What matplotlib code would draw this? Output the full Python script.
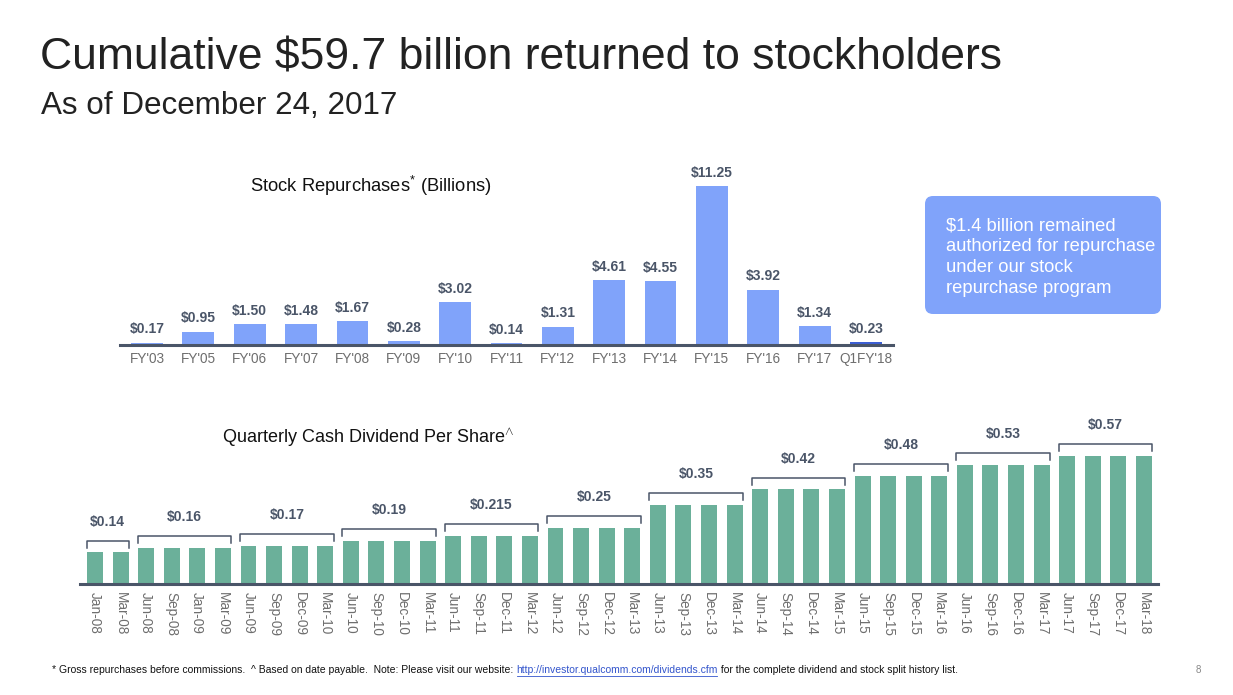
import matplotlib
matplotlib.use('Agg')
import matplotlib.pyplot as plt
import numpy as np
from matplotlib.patches import FancyBboxPatch

plt.rcParams['font.family'] = ['Liberation Sans', 'DejaVu Sans']
plt.rcParams['mathtext.fontset'] = 'custom'
plt.rcParams['mathtext.rm'] = 'Liberation Sans'
plt.rcParams['mathtext.it'] = 'Liberation Sans:italic'
plt.rcParams['mathtext.bf'] = 'Liberation Sans:bold'

# stock repurchases, billions
fy_labels = ["FY'03", "FY'05", "FY'06", "FY'07", "FY'08", "FY'09", "FY'10", "FY'11",
             "FY'12", "FY'13", "FY'14", "FY'15", "FY'16", "FY'17", "Q1FY'18"]
buyback = [0.17, 0.95, 1.50, 1.48, 1.67, 0.28, 3.02, 0.14,
           1.31, 4.61, 4.55, 11.25, 3.92, 1.34, 0.23]

# quarterly dividend per share
quarters = ["Jan-08", "Mar-08",
            "Jun-08", "Sep-08", "Jan-09", "Mar-09",
            "Jun-09", "Sep-09", "Dec-09", "Mar-10",
            "Jun-10", "Sep-10", "Dec-10", "Mar-11",
            "Jun-11", "Sep-11", "Dec-11", "Mar-12",
            "Jun-12", "Sep-12", "Dec-12", "Mar-13",
            "Jun-13", "Sep-13", "Dec-13", "Mar-14",
            "Jun-14", "Sep-14", "Dec-14", "Mar-15",
            "Jun-15", "Sep-15", "Dec-15", "Mar-16",
            "Jun-16", "Sep-16", "Dec-16", "Mar-17",
            "Jun-17", "Sep-17", "Dec-17", "Mar-18"]
dividend = [0.14, 0.14,
            0.16, 0.16, 0.16, 0.16,
            0.17, 0.17, 0.17, 0.17,
            0.19, 0.19, 0.19, 0.19,
            0.215, 0.215, 0.215, 0.215,
            0.25, 0.25, 0.25, 0.25,
            0.35, 0.35, 0.35, 0.35,
            0.42, 0.42, 0.42, 0.42,
            0.48, 0.48, 0.48, 0.48,
            0.53, 0.53, 0.53, 0.53,
            0.57, 0.57, 0.57, 0.57]

BLUE = '#80a3fa'
DARKBLUE = '#3c5fd4'
GREEN = '#6bb09a'
SLATE = '#4a5568'
GREY = '#6e6e6e'

fig = plt.figure(figsize=(12.33, 6.95), dpi=100)

# pixel-space overlay for the slide text
bg = fig.add_axes([0, 0, 1, 1])
bg.set_xlim(0, 1233)
bg.set_ylim(695, 0)
bg.axis('off')

bg.text(40, 58, "Cumulative \\$59.7 billion returned to stockholders", fontsize=32,
        color='#222222', va='center', ha='left')
bg.text(41, 106, "As of December 24, 2017", fontsize=22.6, color='#222222',
        va='center', ha='left')

bg.text(371, 186, r"Stock Repurchases$^{*}$ (Billions)", fontsize=13.2,
        color='#111111', ha='center', va='center')
bg.text(368, 438, r"Quarterly Cash Dividend Per Share$^{\wedge}$", fontsize=13,
        color='#111111', ha='center', va='center')

# callout box
box = FancyBboxPatch((932, 203), 222, 104, boxstyle="round,pad=7,rounding_size=8",
                     facecolor=BLUE, edgecolor='none')
bg.add_patch(box)
box_lines = ["\\$1.4 billion remained", "authorized for repurchase",
             "under our stock", "repurchase program"]
for k, line in enumerate(box_lines):
    bg.text(946, 230 + 21 * k, line, fontsize=13.2, color='white', ha='left', va='baseline')

# footer
renderer = fig.canvas.get_renderer()
parts = [("* Gross repurchases before commissions.  ^ Based on date payable.  Note: Please visit our website: ", '#111111'),
         ("http://investor.qualcomm.com/dividends.cfm", '#3355cc'),
         (" for the complete dividend and stock split history list.", '#111111')]
xpos = 52
for txt, col in parts:
    t = bg.text(xpos, 670, txt, fontsize=7.5, color=col, ha='left', va='center')
    bb = t.get_window_extent(renderer)
    if col != '#111111':
        bg.plot([bb.x0 + 1, bb.x1 - 1], [676, 676], color=col, lw=0.6)
    xpos = bb.x1
bg.text(1198, 670, "8", fontsize=7, color='#888888', ha='center', va='center')

# stock repurchase chart
ax1 = fig.add_axes([120 / 1233, (695 - 345) / 695, 773 / 1233, 185 / 695])
ax1.set_facecolor('none')
x1 = np.arange(len(buyback))
colors1 = [BLUE] * (len(buyback) - 1) + [DARKBLUE]
ax1.bar(x1, buyback, width=0.62, color=colors1)
ax1.set_xlim(-0.526, len(buyback) - 1 + 0.526)
ax1.set_ylim(0, 13.1)
for i, v in enumerate(buyback):
    ax1.annotate(f"${v:.2f}", (i, v), xytext=(0, 9.5), textcoords='offset points',
                 ha='center', va='center', fontsize=10, fontweight='bold', color=SLATE)
ax1.set_xticks(x1)
ax1.set_xticklabels(fy_labels)
ax1.set_yticks([])
ax1.tick_params(axis='x', length=0, pad=5, labelsize=9.8, labelcolor=GREY)
for s in ['top', 'left', 'right']:
    ax1.spines[s].set_visible(False)
ax1.spines['bottom'].set_color(SLATE)
ax1.spines['bottom'].set_linewidth(2.2)

# dividend chart
ax2 = fig.add_axes([80 / 1233, (695 - 584) / 695, 1078 / 1233, 174 / 695])
ax2.set_facecolor('none')
x2 = np.arange(len(dividend))
ax2.bar(x2, dividend, width=0.625, color=GREEN)
ax2.set_xlim(-0.586, len(dividend) - 1 + 0.55)
ax2.set_ylim(0, 0.773)
ax2.set_xticks(x2)
ax2.set_xticklabels(quarters, rotation=270)
ax2.set_yticks([])
ax2.tick_params(axis='x', length=0, pad=6, labelsize=9.8, labelcolor=GREY)
for s in ['top', 'left', 'right']:
    ax2.spines[s].set_visible(False)
ax2.spines['bottom'].set_color(SLATE)
ax2.spines['bottom'].set_linewidth(2.2)

# brackets over runs of equal dividend
start = 0
for i in range(1, len(dividend) + 1):
    if i == len(dividend) or dividend[i] != dividend[start]:
        v = dividend[start]
        end = i - 1
        yb = v + 0.053
        xl, xr = start - 0.33, end + 0.33
        ax2.plot([xl, xl, xr, xr], [v + 0.022, yb, yb, v + 0.022], color=SLATE,
                 lw=1.1, clip_on=False)
        ax2.text((start + end) / 2, yb + 0.084, f"${v:g}", ha='center', va='center',
                 fontsize=10, fontweight='bold', color=SLATE)
        start = i

fig.savefig('out.png', dpi=100)
